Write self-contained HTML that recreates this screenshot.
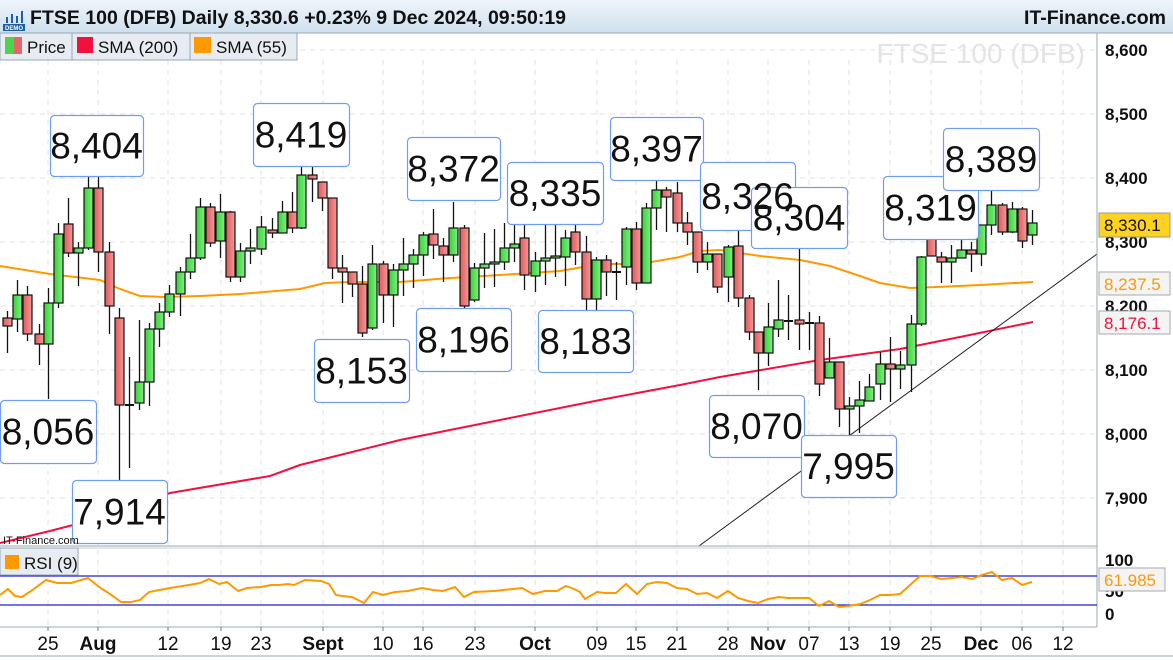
<!DOCTYPE html>
<html><head><meta charset="utf-8"><style>
body{margin:0;background:#fff;}
svg{display:block;font-family:"Liberation Sans",Arial,sans-serif;}
</style></head><body>
<svg id="s" width="1173" height="660" viewBox="0 0 1173 660" xmlns="http://www.w3.org/2000/svg">
<defs>
<linearGradient id="hd" x1="0" y1="0" x2="0" y2="1"><stop offset="0" stop-color="#eef5fb"/><stop offset="1" stop-color="#cfe0ee"/></linearGradient>
<linearGradient id="gg" x1="0" y1="0" x2="1" y2="0"><stop offset="0" stop-color="#3ccf3c"/><stop offset="1" stop-color="#7ef07e"/></linearGradient>
<linearGradient id="rg" x1="0" y1="0" x2="1" y2="0"><stop offset="0" stop-color="#e05a5a"/><stop offset="1" stop-color="#f29a9a"/></linearGradient>
</defs>
<rect width="1173" height="660" fill="#fff"/>
<g id="grid" stroke="#e2e2e2" stroke-dasharray="5,5" stroke-width="1"></g>
<text x="1085" y="63" font-size="28" fill="#e4e4e4" text-anchor="end">FTSE 100 (DFB)</text>
<polyline fill="none" stroke="#f0123c" stroke-width="2" points="0,543 50,531 100,518 170,493 270,476 300,465 400,440 500,420 600,400 680,385 720,377 820,360 900,349 960,337 1033,322"/>
<polyline fill="none" stroke="#ff9900" stroke-width="2" points="0,266 50,274 100,280 120,289 140,296 165,297 200,296 240,294 300,289 325,283 350,282 400,282 450,278 500,275 530,273 560,271 600,264 640,264 680,257 700,251 720,250 760,256 800,260 830,266 860,276 880,283 910,288 937,287 980,285 1033,282"/>
<line x1="699" y1="546" x2="1097" y2="254" stroke="#222" stroke-width="1"/>
<g id="candles"></g>
<g id="lbl" font-size="37" fill="#111" text-anchor="middle"></g>
<rect x="0" y="0" width="1173" height="33" fill="url(#hd)"/>
<line x1="0" y1="33" x2="1173" y2="33" stroke="#9aa8b4"/>
<g transform="translate(3,11)"><rect x="0" y="13" width="22" height="7" fill="#1b5fa8"/><rect x="3" y="6" width="2" height="6" fill="#1b5fa8"/><rect x="8" y="3" width="2" height="9" fill="#1b5fa8"/><rect x="13" y="5" width="2" height="7" fill="#1b5fa8"/><rect x="18" y="0" width="2" height="12" fill="#1b5fa8"/><text x="11" y="19" font-size="6" fill="#fff" text-anchor="middle" font-weight="bold">DEMO</text></g>
<text x="30" y="24" font-size="19.5" font-weight="bold" fill="#111">FTSE 100 (DFB) Daily 8,330.6 +0.23% 9 Dec 2024, 09:50:19</text>
<text x="1166" y="24" font-size="19.5" font-weight="bold" fill="#111" text-anchor="end">IT-Finance.com</text>
<rect x="0" y="33" width="297" height="27" fill="#e6ecf1" stroke="#9aa8b4"/>
<line x1="72" y1="33" x2="72" y2="60" stroke="#9aa8b4"/><line x1="190" y1="33" x2="190" y2="60" stroke="#9aa8b4"/>
<rect x="5" y="37" width="9" height="17" fill="#4cd44c"/><rect x="14" y="37" width="8" height="17" fill="#e06868"/>
<text x="27" y="53" font-size="17" fill="#111">Price</text>
<rect x="77" y="37" width="16" height="16" fill="#f0123c"/><text x="98" y="53" font-size="17" fill="#111">SMA (200)</text>
<rect x="194" y="37" width="17" height="16" fill="#ff9900"/><text x="216" y="53" font-size="17" fill="#111">SMA (55)</text>
<line x1="1097" y1="33" x2="1097" y2="627" stroke="#9aa8b4"/>
<g font-size="17" font-weight="bold" fill="#111">
<text x="1105" y="56">8,600</text><text x="1105" y="120">8,500</text><text x="1105" y="184">8,400</text><text x="1105" y="248">8,300</text><text x="1105" y="312">8,200</text><text x="1105" y="376">8,100</text><text x="1105" y="440">8,000</text><text x="1105" y="504">7,900</text>
<text x="1105" y="566">100</text><text x="1105" y="597">50</text><text x="1105" y="620">0</text>
</g>
<rect x="1099" y="213" width="71" height="24" fill="#ffd21f" stroke="#999"/><text x="1104" y="231" font-size="17" fill="#111">8,330.1</text>
<rect x="1099" y="272" width="71" height="23" fill="#f4f4f4" stroke="#aaa"/><text x="1104" y="290" font-size="17" fill="#ff9900">8,237.5</text>
<rect x="1099" y="311" width="71" height="23" fill="#f4f4f4" stroke="#aaa"/><text x="1104" y="329" font-size="17" fill="#f0123c">8,176.1</text>
<rect x="1099" y="568" width="66" height="23" fill="#f4f4f4" stroke="#aaa"/><text x="1104" y="586" font-size="17" fill="#ff9900">61.985</text>
<line x1="0" y1="546" x2="1097" y2="546" stroke="#9aa8b4"/>
<line x1="0" y1="548" x2="1097" y2="548" stroke="#ccc"/>
<line x1="0" y1="576" x2="1097" y2="576" stroke="#2222cc" stroke-width="1.3"/>
<line x1="0" y1="605" x2="1097" y2="605" stroke="#2222cc" stroke-width="1.3"/>
<line x1="0" y1="627" x2="1097" y2="627" stroke="#9aa8b4"/>
<text x="3" y="544" font-size="11" fill="#111">IT-Finance.com</text>
<rect x="0" y="548" width="78" height="27" fill="#e6ecf1" stroke="#9aa8b4"/>
<rect x="5" y="555" width="14" height="14" fill="#ff9900"/><text x="24" y="569" font-size="17" fill="#111">RSI (9)</text>
<polyline fill="none" stroke="#ff9900" stroke-width="2" points="0,595 8,589 15,596 22,597 31,591 46,580 57,583 71,583 88,578 99,587 110,594 121,602 131,602 140,600 149,592 170,588 189,585 200,583 209,579 219,584 227,582 238,591 247,588 261,587 271,585 279,585 288,584 294,585 305,580 321,581 329,584 336,595 342,596 352,597 364,603 373,592 383,595 395,592 408,591 422,588 433,590 443,591 455,587 464,597 474,592 494,591 513,589 522,588 533,594 545,591 557,591 566,586 574,589 580,592 585,599 597,592 605,593 616,593 626,584 637,594 647,584 657,582 667,583 677,588 687,589 697,594 707,593 717,598 728,591 738,598 748,601 758,603 768,599 779,597 788,598 800,598 809,598 819,606 829,601 839,607 849,606 860,604 870,600 880,595 890,595 900,594 910,585 920,576 930,576 941,579 952,578 962,577 972,579 982,575 992,572 1002,580 1012,578 1022,585 1032,582"/>
<g id="xax" font-size="19" fill="#111" text-anchor="middle"></g>
<line x1="0" y1="656" x2="1173" y2="656" stroke="#9aa8b4"/>
</svg>
<script>
var NS="http://www.w3.org/2000/svg";
function el(p,t,a,txt){var e=document.createElementNS(NS,t);for(var k in a)e.setAttribute(k,a[k]);if(txt!==undefined)e.textContent=txt;p.appendChild(e);return e;}
var grid=document.getElementById('grid');
[50,114,178,242,306,370,434,498].forEach(function(y){el(grid,'line',{x1:0,y1:y,x2:1097,y2:y});});
var ticks=[[48,'25',0],[98,'Aug',1],[168,'12',0],[221,'19',0],[261,'23',0],[323,'Sept',1],[383,'10',0],[423,'16',0],[475,'23',0],[535,'Oct',1],[597,'09',0],[636,'15',0],[677,'21',0],[728,'28',0],[768,'Nov',1],[809,'07',0],[849,'13',0],[890,'19',0],[931,'25',0],[981,'Dec',1],[1022,'06',0],[1063,'12',0]];
var xa=document.getElementById('xax');
ticks.forEach(function(t){el(grid,'line',{x1:t[0],y1:60,x2:t[0],y2:627});el(xa,'line',{x1:t[0],y1:627,x2:t[0],y2:631,stroke:'#777'});var o=el(xa,'text',{x:t[0],y:650},t[1]);if(t[2])o.setAttribute('font-weight','bold');});
var C=[[7,318,326,311,353,'r'],[17,295,319,280,332,'g'],[27,295,334,286,341,'r'],[39,334,344,324,365,'r'],[48,303,344,288,399,'g'],[58,234,303,223,308,'g'],[68,224,253,198,257,'r'],[78,248,253,242,286,'g'],[88,188,248,177,250,'g'],[98,188,252,177,272,'r'],[109,252,306,242,334,'r'],[119,318,405,308,490,'r'],[129,404,406,357,468,'d'],[139,382,403,320,410,'g'],[149,329,382,323,406,'g'],[159,312,329,303,347,'g'],[169,294,312,285,317,'g'],[180,272,294,267,316,'g'],[190,258,272,234,279,'g'],[200,207,258,198,260,'g'],[210,207,243,203,247,'r'],[220,212,241,194,258,'g'],[230,212,277,211,282,'r'],[240,251,277,243,282,'g'],[250,248,251,229,264,'g'],[261,227,249,216,255,'g'],[272,230,233,218,238,'r'],[282,212,233,201,233,'g'],[292,212,228,192,233,'r'],[301,175,228,165,229,'g'],[312,175,179,165,202,'r'],[322,182,198,182,211,'r'],[332,198,268,198,279,'r'],[342,268,272,255,303,'r'],[352,272,284,272,297,'r'],[362,284,333,266,337,'r'],[372,264,328,245,330,'g'],[383,264,295,261,323,'r'],[393,270,295,264,327,'g'],[403,264,270,238,296,'g'],[413,255,264,249,288,'g'],[423,235,255,232,276,'g'],[433,234,245,209,259,'r'],[443,246,255,238,282,'r'],[453,228,255,202,262,'g'],[464,228,306,225,310,'r'],[474,268,300,263,302,'g'],[484,264,268,233,288,'g'],[494,262,264,229,287,'g'],[504,248,262,223,270,'g'],[514,244,248,218,262,'g'],[524,238,275,222,290,'r'],[535,261,276,252,292,'g'],[545,258,261,219,285,'g'],[555,256,258,219,277,'g'],[565,238,257,230,286,'g'],[575,232,252,222,265,'r'],[586,252,299,236,317,'r'],[596,260,299,257,312,'g'],[606,260,272,255,296,'r'],[616,271,273,262,300,'d'],[626,229,267,227,285,'g'],[636,229,283,222,290,'r'],[646,208,283,203,283,'g'],[656,190,208,179,230,'g'],[666,190,197,187,232,'r'],[677,193,223,182,232,'r'],[687,223,232,212,245,'r'],[697,232,262,232,273,'r'],[707,254,262,242,270,'g'],[717,254,287,254,293,'r'],[728,247,277,245,302,'g'],[738,246,298,225,307,'r'],[749,298,332,295,340,'r'],[758,332,353,332,390,'r'],[768,327,353,303,366,'g'],[778,320,329,280,337,'g'],[788,320,322,295,340,'d'],[799,320,324,239,350,'r'],[809,322,324,312,350,'d'],[819,323,384,316,396,'r'],[829,362,378,338,378,'g'],[839,362,409,362,427,'r'],[849,406,409,397,437,'g'],[859,400,406,381,433,'g'],[869,387,401,374,401,'g'],[880,364,384,352,400,'g'],[890,364,369,337,402,'r'],[900,365,369,351,389,'g'],[911,324,365,315,392,'g'],[921,257,324,256,326,'g'],[931,239,256,230,256,'r'],[941,257,262,252,283,'r'],[951,258,262,245,283,'g'],[961,250,258,240,258,'g'],[971,250,254,242,272,'r'],[981,225,254,225,266,'g'],[991,205,225,185,235,'g'],[1002,205,232,203,235,'r'],[1012,209,232,202,233,'g'],[1022,209,241,207,248,'r'],[1032,223,235,210,245,'g']];
var cg=document.getElementById('candles');
C.forEach(function(c){var x=c[0];el(cg,'line',{x1:x+0.5,y1:c[3],x2:x+0.5,y2:c[4],stroke:'#111','stroke-width':1.3});
 if(c[5]=='d'){el(cg,'line',{x1:x-4,y1:c[1]+1,x2:x+5,y2:c[1]+1,stroke:'#111','stroke-width':2});}
 else el(cg,'rect',{x:x-4,y:c[1],width:9,height:Math.max(2,c[2]-c[1]),fill:c[5]=='g'?'url(#gg)':'url(#rg)',stroke:'#111','stroke-width':1.2});});
var L=[[50,115,93,61,'8,404'],[253,103,96,63,'8,419'],[407,137,93,63,'8,372'],[507,162,96,62,'8,335'],[610,117,93,63,'8,397'],[700,162,95,68,'8,326'],[751,187,96,61,'8,304'],[883,176,95,63,'8,319'],[943,128,96,62,'8,389'],[0,400,96,63,'8,056'],[72,480,95,63,'7,914'],[314,339,95,63,'8,153'],[416,308,95,63,'8,196'],[538,310,95,62,'8,183'],[709,395,95,62,'8,070'],[801,435,95,62,'7,995']];
var lg=document.getElementById('lbl');
L.forEach(function(l){el(lg,'rect',{x:l[0]+0.5,y:l[1]+0.5,width:l[2],height:l[3],rx:4,fill:'#fff',stroke:'#6f9ef0','stroke-width':1.2});});
L.forEach(function(l){el(lg,'text',{x:l[0]+l[2]/2,y:l[1]+l[3]/2+13},l[4]);});
</script>
</body></html>
